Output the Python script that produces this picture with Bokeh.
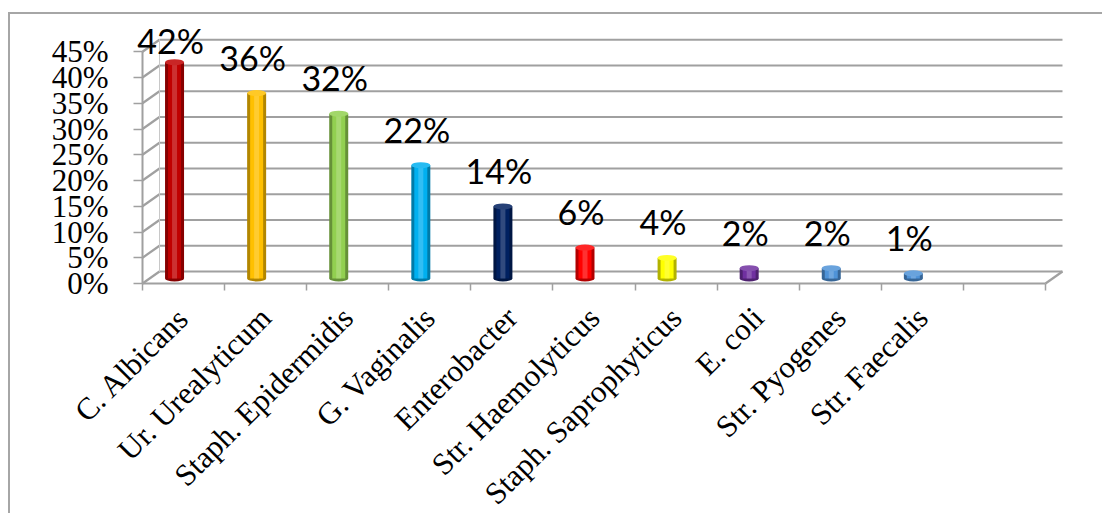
import numpy as np
from bokeh.plotting import figure
from bokeh.models import ColumnDataSource, FixedTicker, PrintfTickFormatter, Range1d, LinearAxis
from bokeh.core.properties import value
from bokeh.embed import file_html
from bokeh.resources import INLINE

# ---------------- data ----------------
categories = ["C. Albicans", "Ur. Urealyticum", "Staph. Epidermidis", "G. Vaginalis",
              "Enterobacter", "Str. Haemolyticus", "Staph. Saprophyticus", "E. coli",
              "Str. Pyogenes", "Str. Faecalis"]
values = [42, 36, 32, 22, 14, 6, 4, 2, 2, 1]
value_labels = ["42%", "36%", "32%", "22%", "14%", "6%", "4%", "2%", "2%", "1%"]
colors = ["#C00000", "#FFC000", "#92D050", "#00B0F0", "#002060",
          "#FF0000", "#FFFF00", "#7030A0", "#4F93D8", "#4F93D8"]
y_ticks = [0, 5, 10, 15, 20, 25, 30, 35, 40, 45]
n_slots = 11  # the category axis has one empty slot at the end

# ---------------- geometry (style constants, px) ----------------
PX_X = 82.09          # pixels per category slot
PX_Y = 5.15           # pixels per percent
DX = 17 / PX_X        # 3-D depth offset (x)
DY = 12 / PX_Y        # 3-D depth offset (y)
BAR_BASE = 5 / PX_Y   # bars stand a little behind the front edge
BAR_SHIFT = -9 / PX_X
BAR_W_PX = 19
LABEL_GAP = 36 / PX_Y
LABEL_MAX = 47.2
GRID = "#A0A0A0"


def shade(hexcol, f):
    c = [int(hexcol[i:i + 2], 16) for i in (1, 3, 5)]
    if f < 0:
        c = [int(v * (1 + f)) for v in c]
    else:
        c = [int(v + (255 - v) * f) for v in c]
    return "#%02x%02x%02x" % tuple(c)


W, H = 1094, 501
AXIS_FROM_LEFT = 132          # px from figure left to the value axis
FLOOR_FROM_TOP = 269          # px from figure top to the floor line
x_start = -0.5
p = figure(width=W, height=H,
           x_range=Range1d(x_start - AXIS_FROM_LEFT / PX_X, x_start + (W - AXIS_FROM_LEFT) / PX_X),
           y_range=Range1d(-(H - FLOOR_FROM_TOP) / PX_Y, FLOOR_FROM_TOP / PX_Y),
           min_border_left=0, min_border_right=0, min_border_top=0, min_border_bottom=0,
           x_axis_type=None, y_axis_type=None,
           output_backend="svg", toolbar_location=None)
p.outline_line_color = None
p.background_fill_color = "white"
p.border_fill_color = "white"
p.margin = (12, 0, 0, 8)
p.styles = {"border-top": "2px solid #A6A6A6", "border-left": "2px solid #A6A6A6"}

# ---------------- 3-D walls / gridlines ----------------
gy = np.array(y_ticks, dtype=float)
left = x_start
right = x_start + n_slots
p.segment(x0=np.full(len(gy), left + DX), y0=gy + DY, x1=np.full(len(gy), right + DX), y1=gy + DY,
          line_color=GRID, line_width=2.2)
p.segment(x0=np.full(len(gy), left), y0=gy, x1=np.full(len(gy), left + DX), y1=gy + DY,
          line_color=GRID, line_width=2.2)
p.segment(x0=[left + DX], y0=[DY], x1=[left + DX], y1=[gy[-1] + DY], line_color="#C8C8C8", line_width=1)
p.segment(x0=[right], y0=[0], x1=[right + DX], y1=[DY], line_color=GRID, line_width=2.2)

# ---------------- axes (fixed inside the plot area) ----------------
yaxis = LinearAxis(ticker=FixedTicker(ticks=y_ticks), formatter=PrintfTickFormatter(format="%d%%"),
                   bounds=(0, y_ticks[-1]), fixed_location=left)
yaxis.major_label_text_font = "Liberation Serif"
yaxis.major_label_text_font_size = "31px"
yaxis.major_label_text_color = "black"
yaxis.major_tick_in = 0
yaxis.major_tick_out = 9
yaxis.major_tick_line_color = GRID
yaxis.major_tick_line_width = 1.5
yaxis.minor_tick_line_color = None
yaxis.axis_line_color = GRID
yaxis.axis_line_width = 2
yaxis.major_label_standoff = 25
p.add_layout(yaxis, "left")

centers = list(range(len(categories)))
boundaries = [x_start + i for i in range(n_slots + 1)]
xaxis = LinearAxis(ticker=FixedTicker(ticks=centers, minor_ticks=boundaries),
                   bounds=(left, right), fixed_location=0,
                   major_label_overrides={i: c for i, c in enumerate(categories)})
xaxis.major_label_orientation = np.pi / 4
xaxis.major_label_text_font = "Liberation Serif"
xaxis.major_label_text_font_size = "31px"
xaxis.major_label_text_color = "black"
xaxis.major_tick_in = 0
xaxis.major_tick_out = 0
xaxis.major_tick_line_color = None
xaxis.minor_tick_in = 0
xaxis.minor_tick_out = 7
xaxis.minor_tick_line_color = GRID
xaxis.minor_tick_line_width = 1.5
xaxis.axis_line_color = GRID
xaxis.axis_line_width = 2
xaxis.major_label_standoff = 22
p.add_layout(xaxis, "below")

# ---------------- cylinders ----------------
vals = np.array(values, dtype=float)
xs = np.array(centers, dtype=float) + BAR_SHIFT
src = ColumnDataSource(dict(
    x=xs, bottom=np.full(len(vals), BAR_BASE), top=vals + BAR_BASE,
    color=colors,
    dark=[shade(c, -0.3) for c in colors],
    light=[shade(c, 0.35) for c in colors],
    topc=[shade(c, 0.15) for c in colors],
))
p.vbar(x="x", bottom="bottom", top="top", width=BAR_W_PX / PX_X, source=src,
       fill_color="dark", line_color=None)
p.ellipse(x="x", y="bottom", width=BAR_W_PX, height=6, width_units="screen", height_units="screen",
          source=src, fill_color="dark", line_color=None)
p.vbar(x="x", bottom="bottom", top="top", width=(BAR_W_PX - 6) / PX_X, source=src,
       fill_color="color", line_color=None)
p.vbar(x="x", bottom="bottom", top="top", width=5 / PX_X, source=src,
       fill_color="light", fill_alpha=0.55, line_color=None)
p.ellipse(x="x", y="top", width=BAR_W_PX, height=6, width_units="screen", height_units="screen",
          source=src, fill_color="topc", line_color=None)

# ---------------- value labels ----------------
lab_y = np.minimum(vals + BAR_BASE + LABEL_GAP, LABEL_MAX)
p.text(x=xs, y=lab_y, text=value_labels, text_font=value("Lato"), text_font_size="34px",
       text_align="center", text_baseline="alphabetic", text_color="black", x_offset=-4)

open("out.html", "w").write(file_html(p, INLINE))
